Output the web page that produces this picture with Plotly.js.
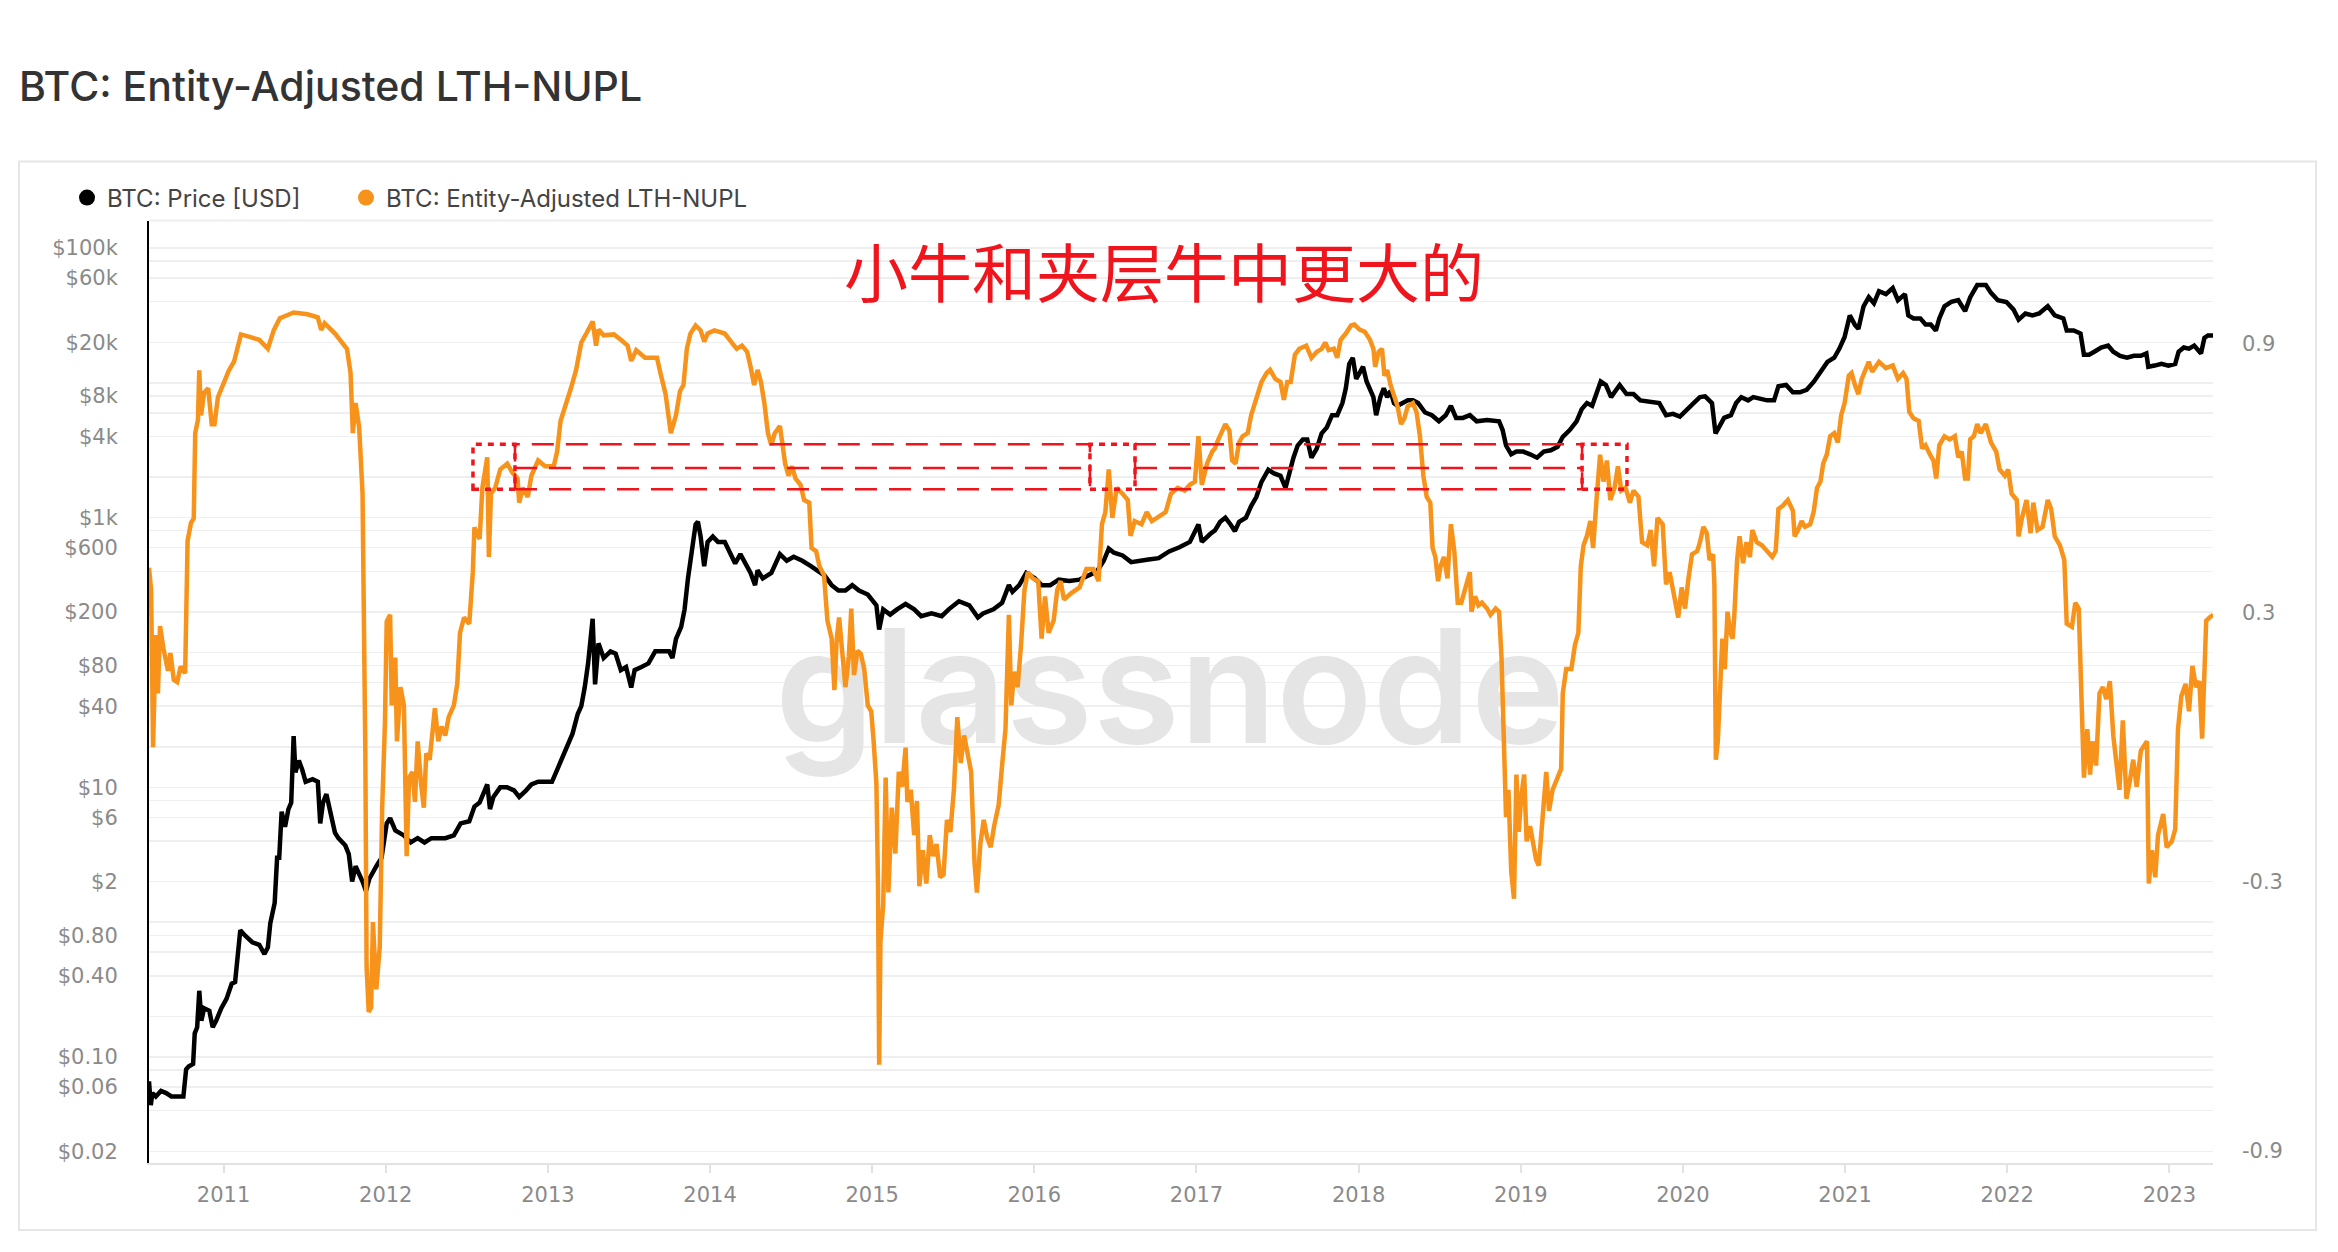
<!DOCTYPE html>
<html>
<head>
<meta charset="utf-8">
<script src="https://cdn.plot.ly/plotly-3.0.1.min.js"></script>
<style>
  html, body { margin: 0; padding: 0; background: #fff; }
  #chart { width: 2338px; height: 1252px; }
</style>
</head>
<body>
<div id="chart"></div>
<script>
// values (x in decimal years)

var priceYear = [
  2010.540, 2010.551, 2010.561, 2010.582, 2010.614, 2010.646, 2010.678, 2010.710, 2010.752, 2010.769,
  2010.784, 2010.812, 2010.822, 2010.837, 2010.850, 2010.863, 2010.880, 2010.912, 2010.933, 2010.954,
  2010.986, 2011.018, 2011.050, 2011.071, 2011.088, 2011.103, 2011.135, 2011.177, 2011.220, 2011.252,
  2011.273, 2011.288, 2011.315, 2011.330, 2011.343, 2011.358, 2011.379, 2011.400, 2011.417, 2011.432,
  2011.443, 2011.464, 2011.485, 2011.506, 2011.549, 2011.581, 2011.596, 2011.613, 2011.634, 2011.655,
  2011.687, 2011.708, 2011.751, 2011.772, 2011.793, 2011.814, 2011.836, 2011.857, 2011.878, 2011.899,
  2011.942, 2011.974, 2012.006, 2012.027, 2012.059, 2012.112, 2012.154, 2012.197, 2012.239, 2012.282,
  2012.324, 2012.367, 2012.420, 2012.462, 2012.515, 2012.547, 2012.579, 2012.600, 2012.626, 2012.643,
  2012.664, 2012.706, 2012.749, 2012.791, 2012.823, 2012.866, 2012.898, 2012.940, 2013.025, 2013.057,
  2013.089, 2013.121, 2013.152, 2013.184, 2013.206, 2013.227, 2013.248, 2013.276, 2013.291, 2013.312,
  2013.344, 2013.386, 2013.418, 2013.450, 2013.482, 2013.514, 2013.535, 2013.577, 2013.620, 2013.662,
  2013.705, 2013.747, 2013.768, 2013.790, 2013.822, 2013.843, 2013.864, 2013.879, 2013.911, 2013.925,
  2013.942, 2013.964, 2013.985, 2014.017, 2014.049, 2014.091, 2014.123, 2014.155, 2014.187, 2014.219,
  2014.250, 2014.278, 2014.293, 2014.325, 2014.378, 2014.431, 2014.473, 2014.516, 2014.569, 2014.622,
  2014.665, 2014.707, 2014.750, 2014.792, 2014.835, 2014.877, 2014.919, 2014.973, 2015.026, 2015.043,
  2015.068, 2015.111, 2015.153, 2015.206, 2015.259, 2015.302, 2015.366, 2015.429, 2015.472, 2015.535,
  2015.599, 2015.652, 2015.684, 2015.748, 2015.801, 2015.843, 2015.865, 2015.907, 2015.950, 2016.003,
  2016.045, 2016.098, 2016.151, 2016.215, 2016.279, 2016.332, 2016.385, 2016.428, 2016.459, 2016.491,
  2016.544, 2016.597, 2016.640, 2016.704, 2016.767, 2016.831, 2016.895, 2016.959, 2017.012, 2017.033,
  2017.086, 2017.114, 2017.146, 2017.178, 2017.210, 2017.237, 2017.263, 2017.305, 2017.337, 2017.369,
  2017.401, 2017.443, 2017.475, 2017.518, 2017.549, 2017.571, 2017.598, 2017.624, 2017.656, 2017.683,
  2017.709, 2017.741, 2017.772, 2017.804, 2017.836, 2017.868, 2017.900, 2017.921, 2017.942, 2017.964,
  2017.985, 2018.006, 2018.027, 2018.049, 2018.070, 2018.091, 2018.108, 2018.134, 2018.155, 2018.176,
  2018.197, 2018.218, 2018.240, 2018.272, 2018.303, 2018.335, 2018.367, 2018.410, 2018.452, 2018.495,
  2018.537, 2018.569, 2018.601, 2018.643, 2018.686, 2018.728, 2018.792, 2018.866, 2018.888, 2018.909,
  2018.941, 2018.973, 2019.015, 2019.057, 2019.100, 2019.142, 2019.185, 2019.227, 2019.259, 2019.302,
  2019.344, 2019.376, 2019.408, 2019.440, 2019.472, 2019.493, 2019.525, 2019.557, 2019.578, 2019.610,
  2019.652, 2019.695, 2019.737, 2019.780, 2019.822, 2019.854, 2019.896, 2019.939, 2019.981, 2020.024,
  2020.066, 2020.105, 2020.137, 2020.179, 2020.201, 2020.222, 2020.254, 2020.296, 2020.328, 2020.360,
  2020.402, 2020.434, 2020.477, 2020.519, 2020.562, 2020.589, 2020.636, 2020.678, 2020.721, 2020.763,
  2020.806, 2020.848, 2020.891, 2020.933, 2020.965, 2020.997, 2021.029, 2021.061, 2021.082, 2021.114,
  2021.146, 2021.178, 2021.209, 2021.252, 2021.294, 2021.326, 2021.369, 2021.390, 2021.422, 2021.464,
  2021.496, 2021.528, 2021.560, 2021.581, 2021.613, 2021.655, 2021.698, 2021.740, 2021.772, 2021.815,
  2021.868, 2021.900, 2021.942, 2021.995, 2022.038, 2022.070, 2022.112, 2022.155, 2022.197, 2022.250,
  2022.293, 2022.346, 2022.367, 2022.410, 2022.452, 2022.473, 2022.505, 2022.537, 2022.579, 2022.622,
  2022.654, 2022.696, 2022.739, 2022.781, 2022.824, 2022.858, 2022.870, 2022.909, 2022.951, 2022.994,
  2023.036, 2023.057, 2023.089, 2023.121, 2023.153, 2023.195, 2023.216, 2023.238, 2023.270
];

var priceUsd = [
  0.066, 0.044, 0.054, 0.051, 0.056, 0.054, 0.051, 0.051, 0.051, 0.081,
  0.085, 0.089, 0.15, 0.166, 0.31, 0.186, 0.23, 0.22, 0.166, 0.186,
  0.23, 0.27, 0.35, 0.36, 0.58, 0.87, 0.79, 0.71, 0.68, 0.58,
  0.65, 0.98, 1.39, 3.0, 3.0, 6.6, 5.1, 6.9, 7.7, 24,
  12.9, 15.8, 13.5, 11, 11.5, 11, 5.4, 7.7, 8.9, 6.9,
  4.6, 4.2, 3.7, 3.2, 2.0, 2.6, 2.3, 2.0, 1.7, 2.1,
  2.6, 3.0, 5.4, 5.9, 4.8, 4.4, 3.9, 4.2, 3.9, 4.2,
  4.2, 4.2, 4.4, 5.4, 5.6, 7.2, 7.7, 8.9, 10.5, 6.9,
  8.5, 10, 10, 9.5, 8.5, 9.5, 10.5, 11, 11, 13.5,
  16.6, 20.4, 25, 35, 40, 55, 83, 178, 58, 117,
  91, 102, 98, 74, 78, 55, 74, 78, 83, 102,
  102, 102, 91, 126, 155, 209, 355, 479, 891, 933,
  724, 437, 661, 724, 661, 661, 537, 457, 537, 457,
  389, 316, 407, 355, 389, 537, 479, 513, 479, 437,
  407, 372, 316, 288, 288, 316, 288, 269, 224, 148,
  209, 191, 209, 229, 209, 186, 195, 186, 209, 240,
  224, 182, 195, 209, 234, 316, 282, 316, 389, 355,
  316, 316, 347, 339, 347, 372, 398, 479, 589, 550,
  525, 468, 479, 490, 501, 562, 603, 661, 891, 661,
  759, 805, 933, 1000, 891, 794, 933, 1000, 1219, 1422,
  1845, 2270, 2138, 2042, 1660, 2138, 2786, 3428, 3802, 3802,
  2786, 3236, 4217, 4677, 5754, 5754, 7079, 9120, 13800, 15350,
  10700, 11860, 13180, 10230, 9120, 7834, 5754, 7834, 9120, 7834,
  8710, 7079, 6761, 7079, 7413, 7413, 7079, 6026, 5754, 5188,
  5754, 6761, 5495, 5495, 5754, 5188, 5300, 5188, 4467, 3428,
  2951, 3090, 3090, 2951, 2786, 3090, 3162, 3357, 3981, 4467,
  5188, 6383, 7079, 6761, 8710, 10230, 9638, 7834, 8511, 9638,
  8260, 8260, 7413, 7244, 7079, 7079, 5754, 5888, 5623, 6383,
  7079, 7834, 7943, 7079, 4217, 4677, 5495, 5754, 7079, 7834,
  7413, 7834, 7586, 7413, 7413, 9441, 9638, 8511, 8511, 8872,
  10160, 11860, 14290, 15350, 17950, 21880, 31620, 26920, 25120, 36980,
  43150, 38900, 47860, 45500, 50470, 41020, 45500, 31620, 30060, 30060,
  27100, 27100, 24430, 30060, 36980, 39810, 41020, 34040, 43150, 53090,
  53090, 46450, 41020, 39810, 35080, 29440, 32660, 31620, 32660, 36980,
  31620, 30060, 24430, 24430, 23230, 16180, 16180, 17020, 18280, 18880,
  17020, 15850, 15350, 15850, 15850, 16520, 13150, 13430, 13840, 13430,
  13840, 17020, 18280, 17950, 18880, 16520, 21580, 22490, 22490
];

var nuplYear = [
  2010.540, 2010.553, 2010.565, 2010.582, 2010.595, 2010.608, 2010.629, 2010.657, 2010.672, 2010.693,
  2010.714, 2010.735, 2010.763, 2010.778, 2010.799, 2010.816, 2010.825, 2010.842, 2010.850, 2010.861,
  2010.880, 2010.905, 2010.927, 2010.944, 2010.965, 2010.997, 2011.033, 2011.065, 2011.086, 2011.107,
  2011.156, 2011.220, 2011.273, 2011.309, 2011.347, 2011.432, 2011.517, 2011.581, 2011.602, 2011.623,
  2011.687, 2011.729, 2011.761, 2011.783, 2011.797, 2011.814, 2011.836, 2011.857, 2011.868, 2011.874,
  2011.882, 2011.895, 2011.910, 2011.921, 2011.942, 2011.963, 2011.978, 2011.995, 2012.006, 2012.027,
  2012.037, 2012.059, 2012.069, 2012.091, 2012.112, 2012.129, 2012.144, 2012.165, 2012.180, 2012.197,
  2012.218, 2012.235, 2012.250, 2012.271, 2012.303, 2012.324, 2012.345, 2012.367, 2012.388, 2012.420,
  2012.441, 2012.458, 2012.483, 2012.515, 2012.537, 2012.547, 2012.579, 2012.596, 2012.626, 2012.636,
  2012.649, 2012.675, 2012.706, 2012.749, 2012.781, 2012.813, 2012.823, 2012.845, 2012.876, 2012.898,
  2012.940, 2012.983, 2013.036, 2013.057, 2013.078, 2013.110, 2013.142, 2013.174, 2013.206, 2013.237,
  2013.276, 2013.297, 2013.312, 2013.344, 2013.407, 2013.450, 2013.492, 2013.514, 2013.545, 2013.599,
  2013.673, 2013.694, 2013.726, 2013.758, 2013.790, 2013.815, 2013.836, 2013.857, 2013.879, 2013.911,
  2013.942, 2013.964, 2013.985, 2014.027, 2014.091, 2014.134, 2014.165, 2014.197, 2014.229, 2014.250,
  2014.272, 2014.293, 2014.314, 2014.335, 2014.357, 2014.378, 2014.399, 2014.431, 2014.448, 2014.463,
  2014.484, 2014.505, 2014.527, 2014.558, 2014.580, 2014.612, 2014.626, 2014.654, 2014.675, 2014.703,
  2014.724, 2014.750, 2014.767, 2014.781, 2014.796, 2014.813, 2014.835, 2014.856, 2014.871, 2014.888,
  2014.909, 2014.930, 2014.951, 2014.973, 2014.994, 2015.009, 2015.026, 2015.036, 2015.043, 2015.051,
  2015.068, 2015.083, 2015.100, 2015.121, 2015.143, 2015.164, 2015.185, 2015.206, 2015.217, 2015.238,
  2015.259, 2015.276, 2015.291, 2015.312, 2015.334, 2015.355, 2015.376, 2015.397, 2015.419, 2015.440,
  2015.461, 2015.482, 2015.504, 2015.525, 2015.546, 2015.567, 2015.589, 2015.610, 2015.631, 2015.646,
  2015.667, 2015.688, 2015.710, 2015.731, 2015.752, 2015.780, 2015.801, 2015.822, 2015.843, 2015.858,
  2015.875, 2015.897, 2015.918, 2015.939, 2015.960, 2015.992, 2016.024, 2016.045, 2016.066, 2016.088,
  2016.119, 2016.141, 2016.162, 2016.183, 2016.226, 2016.279, 2016.321, 2016.364, 2016.396, 2016.417,
  2016.438, 2016.459, 2016.481, 2016.508, 2016.544, 2016.576, 2016.593, 2016.619, 2016.661, 2016.693,
  2016.725, 2016.767, 2016.810, 2016.842, 2016.884, 2016.927, 2016.959, 2016.990, 2017.012, 2017.033,
  2017.065, 2017.097, 2017.114, 2017.135, 2017.156, 2017.178, 2017.203, 2017.220, 2017.241, 2017.263,
  2017.284, 2017.316, 2017.337, 2017.369, 2017.401, 2017.433, 2017.454, 2017.486, 2017.518, 2017.539,
  2017.560, 2017.581, 2017.607, 2017.634, 2017.677, 2017.709, 2017.741, 2017.772, 2017.794, 2017.815,
  2017.847, 2017.868, 2017.889, 2017.921, 2017.953, 2017.974, 2018.006, 2018.038, 2018.070, 2018.091,
  2018.102, 2018.123, 2018.144, 2018.159, 2018.176, 2018.197, 2018.218, 2018.240, 2018.261, 2018.282,
  2018.303, 2018.335, 2018.357, 2018.378, 2018.399, 2018.420, 2018.442, 2018.456, 2018.473, 2018.490,
  2018.505, 2018.526, 2018.548, 2018.569, 2018.590, 2018.611, 2018.633, 2018.654, 2018.686, 2018.696,
  2018.718, 2018.739, 2018.760, 2018.792, 2018.813, 2018.845, 2018.866, 2018.881, 2018.894, 2018.909,
  2018.924, 2018.941, 2018.958, 2018.973, 2018.987, 2019.004, 2019.021, 2019.036, 2019.057, 2019.079,
  2019.094, 2019.111, 2019.128, 2019.142, 2019.157, 2019.174, 2019.196, 2019.227, 2019.249, 2019.259,
  2019.280, 2019.312, 2019.334, 2019.355, 2019.370, 2019.387, 2019.408, 2019.429, 2019.446, 2019.467,
  2019.489, 2019.510, 2019.531, 2019.552, 2019.578, 2019.599, 2019.620, 2019.646, 2019.673, 2019.695,
  2019.726, 2019.748, 2019.780, 2019.801, 2019.822, 2019.843, 2019.875, 2019.896, 2019.918, 2019.939,
  2019.971, 2019.992, 2020.013, 2020.034, 2020.056, 2020.088, 2020.105, 2020.126, 2020.147, 2020.164,
  2020.186, 2020.194, 2020.203, 2020.215, 2020.228, 2020.243, 2020.258, 2020.275, 2020.292, 2020.307,
  2020.317, 2020.334, 2020.349, 2020.371, 2020.392, 2020.413, 2020.428, 2020.455, 2020.487, 2020.519,
  2020.551, 2020.572, 2020.589, 2020.615, 2020.647, 2020.678, 2020.689, 2020.710, 2020.732, 2020.753,
  2020.785, 2020.806, 2020.827, 2020.848, 2020.865, 2020.887, 2020.908, 2020.933, 2020.955, 2020.976,
  2020.997, 2021.023, 2021.040, 2021.061, 2021.082, 2021.103, 2021.125, 2021.146, 2021.167, 2021.209,
  2021.252, 2021.294, 2021.326, 2021.358, 2021.379, 2021.396, 2021.422, 2021.454, 2021.475, 2021.496,
  2021.524, 2021.545, 2021.562, 2021.581, 2021.613, 2021.645, 2021.677, 2021.698, 2021.719, 2021.740,
  2021.757, 2021.772, 2021.794, 2021.815, 2021.836, 2021.868, 2021.900, 2021.932, 2021.953, 2021.985,
  2022.006, 2022.027, 2022.059, 2022.070, 2022.091, 2022.119, 2022.144, 2022.161, 2022.187, 2022.218,
  2022.250, 2022.271, 2022.293, 2022.325, 2022.352, 2022.367, 2022.399, 2022.420, 2022.441, 2022.458,
  2022.473, 2022.494, 2022.511, 2022.526, 2022.548, 2022.569, 2022.590, 2022.611, 2022.633, 2022.654,
  2022.671, 2022.692, 2022.713, 2022.735, 2022.756, 2022.777, 2022.798, 2022.824, 2022.862, 2022.873,
  2022.892, 2022.913, 2022.930, 2022.962, 2022.983, 2023.015, 2023.036, 2023.053, 2023.074, 2023.100,
  2023.121, 2023.142, 2023.164, 2023.185, 2023.202, 2023.219, 2023.227, 2023.248, 2023.270
];

var nuplValue = [
  0.40, 0.35, 0.00, 0.25, 0.12, 0.27, 0.22, 0.17, 0.21, 0.15,
  0.145, 0.18, 0.165, 0.46, 0.50, 0.51, 0.70, 0.73, 0.84, 0.74,
  0.79, 0.80, 0.72, 0.72, 0.78, 0.81, 0.84, 0.86, 0.895, 0.92,
  0.915, 0.908, 0.888, 0.929, 0.956, 0.969, 0.965, 0.958, 0.93, 0.945,
  0.922, 0.902, 0.888, 0.834, 0.70, 0.767, 0.713, 0.565, 0.295, -0.01,
  -0.49, -0.59, -0.58, -0.39, -0.54, -0.445, -0.135, 0.053, 0.28, 0.295,
  0.093, 0.20, 0.013, 0.134, 0.093, -0.243, -0.068, -0.055, -0.122, 0.013,
  -0.082, -0.135, -0.014, -0.028, 0.087, 0.013, 0.046, 0.026, 0.067, 0.093,
  0.141, 0.255, 0.289, 0.275, 0.39, 0.49, 0.464, 0.578, 0.646, 0.424,
  0.565, 0.578, 0.619, 0.632, 0.612, 0.599, 0.545, 0.578, 0.558, 0.605,
  0.639, 0.626, 0.626, 0.659, 0.727, 0.76, 0.80, 0.841, 0.902, 0.922,
  0.949, 0.895, 0.931, 0.918, 0.92, 0.908, 0.895, 0.861, 0.885, 0.868,
  0.868, 0.834, 0.787, 0.70, 0.74, 0.794, 0.807, 0.888, 0.922, 0.94,
  0.929, 0.904, 0.922, 0.929, 0.922, 0.902, 0.888, 0.895, 0.881, 0.848,
  0.807, 0.841, 0.814, 0.767, 0.70, 0.673, 0.70, 0.716, 0.659, 0.632,
  0.605, 0.626, 0.599, 0.585, 0.551, 0.545, 0.444, 0.437, 0.403, 0.383,
  0.282, 0.242, 0.127, 0.24, 0.289, 0.215, 0.134, 0.201, 0.309, 0.161,
  0.215, 0.208, 0.174, 0.093, 0.08, 0.013, -0.082, -0.31, -0.708, -0.432,
  -0.351, -0.068, -0.324, -0.135, -0.237, -0.055, -0.088, -0.001, -0.122, -0.095,
  -0.196, -0.12, -0.31, -0.23, -0.304, -0.196, -0.243, -0.216, -0.29, -0.284,
  -0.162, -0.189, -0.095, 0.067, -0.035, 0.026, -0.014, -0.055, -0.257, -0.324,
  -0.216, -0.162, -0.203, -0.223, -0.176, -0.129, -0.041, 0.040, 0.295, 0.093,
  0.168, 0.134, 0.228, 0.35, 0.39, 0.376, 0.37, 0.242, 0.336, 0.255,
  0.282, 0.35, 0.37, 0.329, 0.343, 0.356, 0.397, 0.397, 0.37, 0.497,
  0.524, 0.619, 0.511, 0.578, 0.565, 0.551, 0.471, 0.504, 0.497, 0.524,
  0.504, 0.514, 0.524, 0.565, 0.578, 0.572, 0.585, 0.592, 0.693, 0.585,
  0.632, 0.659, 0.666, 0.686, 0.706, 0.72, 0.706, 0.639, 0.632, 0.679,
  0.693, 0.70, 0.74, 0.78, 0.814, 0.834, 0.841, 0.821, 0.814, 0.774,
  0.814, 0.814, 0.875, 0.888, 0.895, 0.868, 0.881, 0.888, 0.902, 0.885,
  0.888, 0.868, 0.908, 0.922, 0.94, 0.942, 0.931, 0.926, 0.908, 0.888,
  0.848, 0.881, 0.888, 0.828, 0.841, 0.807, 0.78, 0.76, 0.72, 0.733,
  0.76, 0.767, 0.747, 0.693, 0.605, 0.558, 0.545, 0.444, 0.424, 0.37,
  0.403, 0.424, 0.376, 0.497, 0.437, 0.322, 0.322, 0.35, 0.39, 0.302,
  0.336, 0.316, 0.322, 0.309, 0.295, 0.309, 0.302, 0.201, 0.013, -0.156,
  -0.095, -0.277, -0.338, -0.061, -0.189, -0.108, -0.061, -0.21, -0.176, -0.216,
  -0.25, -0.264, -0.176, -0.108, -0.055, -0.142, -0.095, -0.068, -0.048, 0.12,
  0.174, 0.174, 0.228, 0.255, 0.403, 0.45, 0.471, 0.504, 0.444, 0.551,
  0.652, 0.592, 0.639, 0.551, 0.578, 0.626, 0.572, 0.578, 0.545, 0.572,
  0.558, 0.457, 0.45, 0.484, 0.403, 0.511, 0.497, 0.363, 0.39, 0.35,
  0.289, 0.356, 0.309, 0.376, 0.43, 0.437, 0.457, 0.491, 0.477, 0.417,
  0.43, 0.363, -0.028, 0.013, 0.147, 0.242, 0.174, 0.302, 0.255, 0.242,
  0.295, 0.417, 0.47, 0.41, 0.457, 0.424, 0.484, 0.457, 0.45, 0.437,
  0.424, 0.437, 0.531, 0.538, 0.551, 0.527, 0.47, 0.484, 0.504, 0.491,
  0.497, 0.524, 0.578, 0.592, 0.632, 0.652, 0.693, 0.70, 0.679, 0.74,
  0.767, 0.828, 0.834, 0.807, 0.787, 0.821, 0.841, 0.859, 0.837, 0.859,
  0.845, 0.851, 0.821, 0.834, 0.821, 0.747, 0.733, 0.727, 0.666, 0.673,
  0.652, 0.639, 0.599, 0.673, 0.693, 0.686, 0.693, 0.646, 0.659, 0.599,
  0.599, 0.686, 0.693, 0.72, 0.70, 0.72, 0.679, 0.659, 0.619, 0.605,
  0.619, 0.565, 0.551, 0.47, 0.511, 0.551, 0.477, 0.545, 0.484, 0.491,
  0.551, 0.531, 0.47, 0.45, 0.417, 0.275, 0.268, 0.322, 0.309, 0.08,
  -0.068, 0.04, -0.061, 0.013, -0.041, 0.12, 0.134, 0.107, 0.147, 0.026,
  -0.035, -0.095, 0.06, -0.115, -0.075, -0.028, -0.088, -0.008, 0.013, -0.304,
  -0.23, -0.29, -0.196, -0.149, -0.223, -0.21, -0.183, 0.04, 0.114, 0.141,
  0.08, 0.181, 0.134, 0.147, 0.019, 0.188, 0.282, 0.289, 0.295
];

var yearTicks = [2011, 2012, 2013, 2014, 2015, 2016, 2017, 2018, 2019, 2020, 2021, 2022, 2023];
var yearLabels = ['2011', '2012', '2013', '2014', '2015', '2016', '2017', '2018', '2019', '2020', '2021', '2022', '2023'];

var priceTicks = [0.02, 0.04, 0.06, 0.08, 0.1, 0.2, 0.4, 0.6, 0.8, 1, 2, 4, 6, 8, 10, 20, 40, 60, 80,
  100, 200, 400, 600, 800, 1000, 2000, 4000, 6000, 8000, 10000, 20000, 40000, 60000, 80000, 100000];
var priceTickText = ['$0.02', '', '$0.06', '', '$0.10', '', '$0.40', '', '$0.80', '', '$2', '', '$6', '', '$10', '', '$40', '', '$80',
  '', '$200', '', '$600', '', '$1k', '', '$4k', '', '$8k', '', '$20k', '', '$60k', '', '$100k'];

var nuplTicks = [0.9, 0.3, -0.3, -0.9];
var nuplTickText = ['0.9', '0.3', '-0.3', '-0.9'];

var seriesNames = ['BTC: Price [USD]', 'BTC: Entity-Adjusted LTH-NUPL'];
var seriesColors = ['#000000', '#f7931a'];

// red boxes drawn on the chart (year edges, NUPL levels)
var boxEdges = [2012.538, 2012.797, 2016.343, 2016.621, 2019.378, 2019.655];
var boxLevels = [0.575, 0.622, 0.675];
var noteText = '小牛和夹层牛中更大的';

var red = '#f0141c';

function box(x0, x1, dash, width) {
    return {
        type: 'rect', xref: 'x', yref: 'y2',
        x0: x0, x1: x1, y0: boxLevels[0], y1: boxLevels[2],
        line: {color: red, width: width, dash: dash}
    };
}
function midLine(x0, x1) {
    return {
        type: 'line', xref: 'x', yref: 'y2',
        x0: x0, x1: x1, y0: boxLevels[1], y1: boxLevels[1],
        line: {color: red, width: 2.5, dash: '22px,12px'}
    };
}

var shapes = [
    // outer card
    {type: 'rect', xref: 'paper', yref: 'paper', x0: -0.063, x1: 1.0499, y0: -0.071, y1: 1.0626,
        line: {color: '#e6e6e6', width: 2}, layer: 'below'},
    {type: 'line', xref: 'paper', yref: 'paper', x0: 0, x1: 1, y0: 1, y1: 1,
        line: {color: '#eeeeee', width: 2}, layer: 'below'},
    box(boxEdges[0], boxEdges[1], '6px,6px', 3.5),
    box(boxEdges[1], boxEdges[2], '22px,12px', 2.5),
    box(boxEdges[2], boxEdges[3], '6px,6px', 3.5),
    box(boxEdges[3], boxEdges[4], '22px,12px', 2.5),
    box(boxEdges[4], boxEdges[5], '6px,6px', 3.5),
    midLine(boxEdges[1], boxEdges[2]),
    midLine(boxEdges[3], boxEdges[4])
];

var watermark = {
    x: [2016.836], y: [42], text: ['glassnode'],
    mode: 'text', type: 'scatter', yaxis: 'y',
    textfont: {family: 'Inter', size: 158, color: '#e5e5e5', weight: 600},
    hoverinfo: 'skip', showlegend: false
};

var priceTrace = {
    x: priceYear, y: priceUsd, name: seriesNames[0],
    type: 'scatter', mode: 'lines', yaxis: 'y',
    line: {color: seriesColors[0], width: 4.5},
    showlegend: false
};

var nuplTrace = {
    x: nuplYear, y: nuplValue, name: seriesNames[1],
    type: 'scatter', mode: 'lines', yaxis: 'y2',
    line: {color: seriesColors[1], width: 4.5},
    showlegend: false
};

// legend entries with round dots, like the original (one legend each)
var legendDots = seriesNames.map(function (name, i) {
    return {
        x: [null], y: [null], name: name, type: 'scatter', mode: 'markers',
        marker: {color: seriesColors[i], size: 17, symbol: 'circle'},
        yaxis: i === 0 ? 'y' : 'y2', hoverinfo: 'skip',
        legend: i === 0 ? 'legend' : 'legend2'
    };
});

var tickFont = {family: 'DejaVu Sans', size: 21, color: '#8a8a8a'};
var legendFont = {family: 'Inter', size: 24, color: '#444444'};

function legendAt(px) {
    return {
        orientation: 'h', xref: 'container', yref: 'container',
        x: px / 2338, xanchor: 'left', y: 1 - 198 / 1252, yanchor: 'middle',
        font: legendFont, bgcolor: 'rgba(0,0,0,0)'
    };
}

var layout = {
    width: 2338, height: 1252,
    margin: {l: 149, r: 125, t: 220, b: 89},
    paper_bgcolor: '#ffffff', plot_bgcolor: '#ffffff',
    font: tickFont,
    title: {
        text: 'BTC: Entity-Adjusted LTH-NUPL',
        xref: 'container', yref: 'container',
        x: 19 / 2338, xanchor: 'left', y: 1 - 87 / 1252, yanchor: 'middle',
        font: {family: 'Inter', size: 41, color: '#333333', weight: 500}
    },
    showlegend: true,
    legend: legendAt(67),
    legend2: legendAt(346),
    xaxis: {
        range: [2010.540, 2023.269],
        tickvals: yearTicks, ticktext: yearLabels,
        showgrid: false, zeroline: false,
        showline: true, linecolor: '#e2e2e2', linewidth: 2,
        ticks: 'outside', ticklen: 8, tickcolor: '#e2e2e2', tickwidth: 2,
        ticklabelstandoff: 4,
        tickfont: tickFont, fixedrange: true
    },
    yaxis: {
        type: 'log', range: [-1.786, 5.204],
        tickvals: priceTicks, ticktext: priceTickText,
        showgrid: true, gridcolor: '#efefef', gridwidth: 1.5,
        showline: true, linecolor: '#000000', linewidth: 2,
        zeroline: false, ticks: '', ticklabelstandoff: 25,
        tickfont: tickFont, fixedrange: true
    },
    yaxis2: {
        overlaying: 'y', side: 'right', range: [-0.927, 1.174],
        tickvals: nuplTicks, ticktext: nuplTickText,
        showgrid: false, zeroline: false, showline: false,
        ticks: '', ticklabelstandoff: 28,
        tickfont: tickFont, fixedrange: true
    },
    shapes: shapes,
    annotations: [{
        text: noteText, xref: 'paper', yref: 'paper',
        x: 0.492, y: 0.949, xanchor: 'center', yanchor: 'middle',
        showarrow: false,
        font: {family: 'Noto Sans CJK SC', size: 64, color: red}
    }]
};

Plotly.newPlot('chart', [watermark, priceTrace, nuplTrace].concat(legendDots), layout,
    {displayModeBar: false, staticPlot: true});
</script>
</body>
</html>
